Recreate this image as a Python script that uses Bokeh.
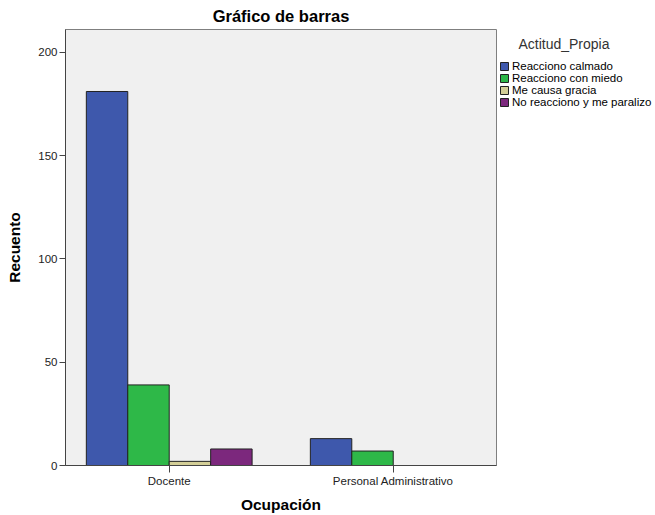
from bokeh.plotting import figure
from bokeh.models import ColumnDataSource, FixedTicker, Legend, LegendItem, Range1d
from bokeh.embed import file_html
from bokeh.resources import INLINE

categories = ["Docente", "Personal Administrativo"]
series = ["Reacciono calmado", "Reacciono con miedo", "Me causa gracia", "No reacciono y me paralizo"]
colors = ["#3E58AC", "#2EB848", "#D3CE97", "#7C287D"]
values = {
    "Reacciono calmado": [181, 13],
    "Reacciono con miedo": [39, 7],
    "Me causa gracia": [2, 0],
    "No reacciono y me paralizo": [8, 0],
}
y_ticks = [0, 50, 100, 150, 200]
legend_title = "Actitud_Propia"

FONT = "Liberation Sans"
bar_w = 0.185

p = figure(frame_width=431, frame_height=436, output_backend="svg", toolbar_location=None,
           x_range=Range1d(-0.463, 1.461), y_range=Range1d(0, 211),
           min_border_left=65, min_border_top=28, min_border_bottom=47, min_border_right=0)

p.title.text = "Gráfico de barras"
p.title.align = "center"
p.title.text_font = FONT
p.title.text_font_size = "16.5px"
p.title.text_font_style = "bold"
p.title.text_color = "#000000"
p.title.standoff = 9
p.title.offset = 0

p.background_fill_color = "#F0F0F0"
p.border_fill_color = "#FFFFFF"
p.outline_line_color = "#7F7F7F"
p.outline_line_width = 1
p.xgrid.visible = False
p.ygrid.visible = False

items = []
n = len(series)
for i, (s, c) in enumerate(zip(series, colors)):
    off = (i - (n - 1) / 2) * bar_w
    src = ColumnDataSource(dict(x=[k + off for k in range(len(categories))], top=values[s]))
    r = p.vbar(x="x", top="top", width=bar_w, bottom=0, source=src,
               fill_color=c, line_color="#222222", line_width=1)
    items.append(LegendItem(label=s, renderers=[r]))

legend = Legend(items=items, title="\u00a0\u00a0\u00a0\u00a0\u00a0" + legend_title,
                location=(3, 357),
                margin=0, padding=0, border_line_color=None, background_fill_alpha=0,
                glyph_width=10, glyph_height=10, label_standoff=3, spacing=0,
                label_height=12, label_text_font=FONT, label_text_font_size="11.5px",
                label_text_color="#000000",
                title_text_font=FONT, title_text_font_size="14px", title_text_font_style="normal",
                title_text_color="#333333", title_standoff=8)
p.add_layout(legend, "right")

for ax in (p.xaxis[0], p.yaxis[0]):
    ax.axis_line_color = "#444444"
    ax.major_tick_line_color = "#444444"
    ax.minor_tick_line_color = None
    ax.major_tick_in = 0
    ax.major_label_text_font = FONT
    ax.major_label_text_font_size = "11.5px"
    ax.major_label_text_color = "#222222"
    ax.axis_label_text_font = FONT
    ax.axis_label_text_font_size = "15.5px"
    ax.axis_label_text_font_style = "bold"
    ax.axis_label_text_color = "#000000"

p.xaxis.ticker = FixedTicker(ticks=list(range(len(categories))))
p.xaxis.major_label_overrides = {i: c for i, c in enumerate(categories)}
p.xaxis.major_tick_out = 7
p.xaxis.major_label_standoff = 2
p.xaxis.axis_label = "Ocupación"
p.xaxis.axis_label_standoff = 6

p.yaxis.ticker = FixedTicker(ticks=y_ticks)
p.yaxis.major_tick_out = 6
p.yaxis.major_label_standoff = 2
p.yaxis.axis_label = "Recuento"
p.yaxis.axis_label_standoff = 12

open("out.html", "w").write(file_html(p, INLINE))
